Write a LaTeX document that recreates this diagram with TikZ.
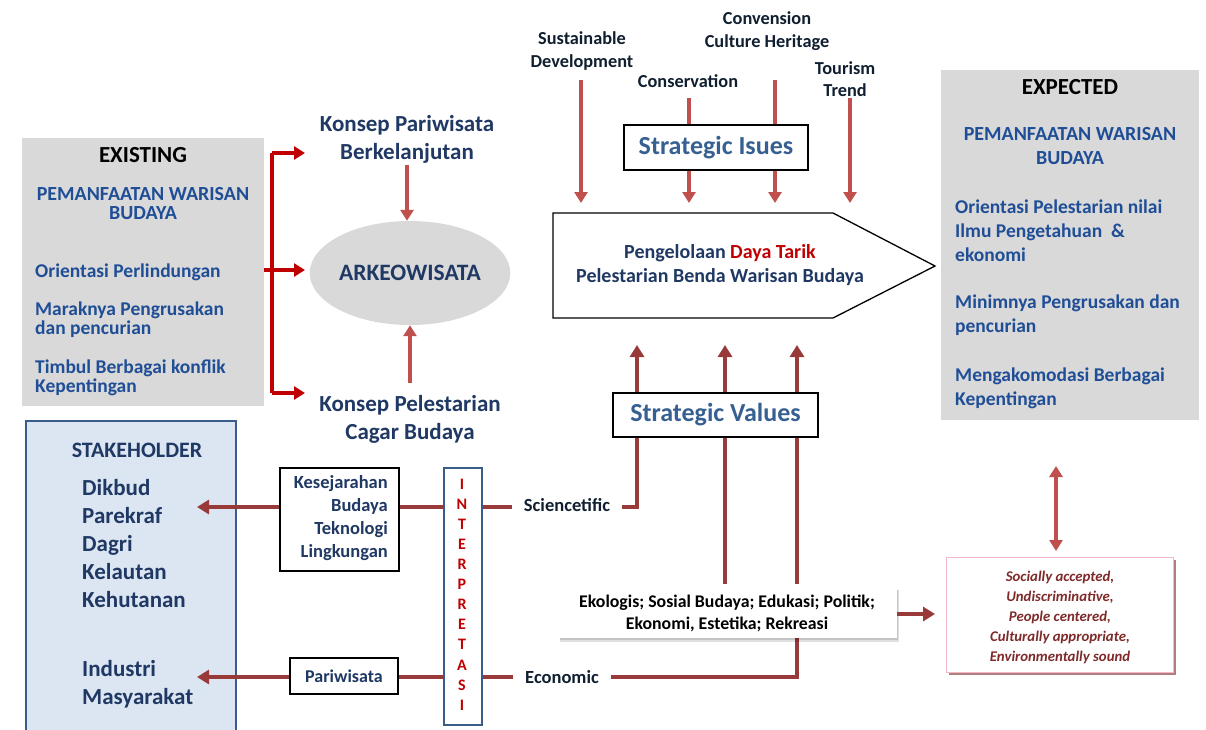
\documentclass[tikz,border=0pt]{standalone}
\usepackage{fontspec}
\setmainfont{Carlito}
\usetikzlibrary{arrows.meta,shapes.geometric}
\pgfdeclarelayer{bg}
\pgfsetlayers{bg,main}
\definecolor{grayfill}{HTML}{D9D9D9}
\definecolor{txtblue}{HTML}{1F4E96}
\definecolor{navy}{HTML}{1F3864}
\definecolor{sblue}{HTML}{376092}
\definecolor{brred}{HTML}{C00000}
\definecolor{lred}{HTML}{C0504D}
\definecolor{dred}{HTML}{983A3A}
\definecolor{stfill}{HTML}{DCE6F2}
\definecolor{stborder}{HTML}{385D8A}
\definecolor{pinkb}{HTML}{F2B8C6}
\definecolor{itred}{HTML}{7F2A2A}
\definecolor{darktxt}{HTML}{0F1F30}
\begin{document}
\begin{tikzpicture}[x=1pt,y=-1pt,
  box/.style={inner sep=0pt, anchor=north west},
  graybox/.style={box, fill=grayfill},
  blkbox/.style={box, draw=black, line width=2.2pt, fill=white},
  txt/.style={inner sep=0pt},
  bt/.style={txt, text=txtblue, font=\fontsize{20}{19}\selectfont\bfseries},
  bitem/.style={txt, text=txtblue, font=\fontsize{19.5}{24}\selectfont\bfseries, anchor=west, align=left},
  kt/.style={txt, text=navy, font=\fontsize{23}{28}\selectfont\bfseries, align=center},
  toplbl/.style={txt, text=darktxt, font=\fontsize{18.3}{22.5}\selectfont\bfseries, align=center},
  smlbl/.style={inner xsep=12pt, inner ysep=0pt, text=darktxt, font=\fontsize{18.5}{18}\selectfont\bfseries},
  larr/.style={draw=lred, line width=4pt, -{Triangle[width=13pt,length=11pt]}},
  brk/.style={draw=brred, line width=3.5pt},
  brkarr/.style={brk, -{Triangle[width=13pt,length=11pt]}},
  dline/.style={draw=dred, line width=4.5pt},
  darr/.style={dline, -{Triangle[width=14pt,length=12pt]}},
  stratbox/.style={draw=black, line width=2.5pt, fill=white, inner sep=0pt, text=sblue, font=\fontsize{26}{26}\selectfont\bfseries},
]
\useasboundingbox (0,0) rectangle (1206,729);
\begin{pgfonlayer}{bg}
\fill[white] (0,0) rectangle (1206,729);
\end{pgfonlayer}

% ---------------- EXISTING ----------------
\node[graybox, minimum width=242pt, minimum height=268pt] (exist) at (22,138) {};
\node[txt, font=\fontsize{23}{23}\selectfont\bfseries] (exT) at (143,155) {EXISTING};
\node[bt, align=center] (exH) at (143,204) {PEMANFAATAN WARISAN\\BUDAYA};
\node[bitem] (ex1) at (35,272) {Orientasi Perlindungan};
\node[bitem, font=\fontsize{19.5}{19}\selectfont\bfseries] (ex2) at (35,320) {Maraknya Pengrusakan\\dan pencurian};
\node[bitem, font=\fontsize{19.5}{19}\selectfont\bfseries] (ex3) at (35,378) {Timbul Berbagai konflik\\Kepentingan};

% ---------------- ARKEOWISATA ----------------
\node[kt] (kpb) at (407,139) {Konsep Pariwisata\\Berkelanjutan};
\node[ellipse, fill=grayfill, inner sep=0pt, minimum width=194pt, minimum height=104pt,
      text=navy, font=\fontsize{23.5}{23.5}\selectfont\bfseries] (ark) at (410,273) {ARKEOWISATA};
\node[kt] (kpc) at (410,419) {Konsep Pelestarian\\Cagar Budaya};
\draw[larr] (kpb.south |- 0,165) -- (kpb.south |- ark.north);
\draw[larr] (kpc.north |- 0,383) -- (kpc.north |- ark.south);

% bracket
\coordinate (brT) at (305,153);
\coordinate (brM) at (305,270);
\coordinate (brB) at (305,393);
\draw[brk] (272,153) -- (272,393);
\draw[brkarr] (272,153) -- (brT);
\draw[brkarr] (exist.east |- brM) -- (brM);
\draw[brkarr] (272,393) -- (brB);

% ---------------- STAKEHOLDER ----------------
\node[box, fill=stfill, draw=stborder, line width=1.8pt, minimum width=210pt, minimum height=320pt] (stk) at (25,420) {};
\node[txt, text=navy, font=\fontsize{22}{22}\selectfont\bfseries] (stT) at (137,450) {STAKEHOLDER};
\node[txt, text=navy, font=\fontsize{23}{28}\selectfont\bfseries, anchor=west, align=left] (st1) at (82,544) {Dikbud\\Parekraf\\Dagri\\Kelautan\\Kehutanan};
\node[txt, text=navy, font=\fontsize{23}{28}\selectfont\bfseries, anchor=west, align=left] (st2) at (82,684) {Industri\\Masyarakat};

% ---------------- middle left boxes ----------------
\node[blkbox, minimum width=119pt, minimum height=103pt] (kes) at (279,467) {};
\node[txt, text=navy, font=\fontsize{18.5}{23}\selectfont\bfseries, anchor=east, align=right] (kesT) at (388,518.5) {Kesejarahan\\Budaya\\Teknologi\\Lingkungan};
\node[blkbox, minimum width=108pt, minimum height=36pt, text=navy, font=\fontsize{18}{18}\selectfont\bfseries, anchor=center] (par) at (344,676) {Pariwisata};
\node[box, draw=stborder, line width=2pt, fill=white, minimum width=38pt, minimum height=257pt] (interp) at (443,467) {};
\node[txt, text=brred, font=\fontsize{16}{20.1}\selectfont\bfseries, align=center] (interpT) at (462,594.5) {I\\N\\T\\E\\R\\P\\R\\E\\T\\A\\S\\I};

\node[smlbl] (sci) at (567,505) {Sciencetific};
\node[smlbl] (eco) at (562,677) {Economic};

\coordinate (stA) at (197,507);
\coordinate (stB) at (197,677);
\draw[darr] (kes.west |- stA) -- (stA);
\draw[darr] (par.west |- stB) -- (stB);
\draw[dline] (kes.east |- stA) -- (interp.west |- stA);
\draw[dline] (par.east |- stB) -- (interp.west |- stB);
\draw[dline] (interp.east |- stA) -- (sci.west |- stA);
\draw[dline] (interp.east |- stB) -- (eco.west |- stB);

% ---------------- center ----------------
\node[toplbl] (sd) at (582,51) {Sustainable\\Development};
\node[toplbl] (cons) at (688,81) {Conservation};
\node[toplbl] (conv) at (767,31) {Convension\\Culture Heritage};
\node[toplbl] (tour) at (845,79) {Tourism\\Trend};

\coordinate (t1) at (581,203);
\coordinate (t2) at (689,203);
\coordinate (t3) at (775,203);
\coordinate (t4) at (850,203);
\begin{pgfonlayer}{bg}
\draw[larr] (t1 |- 0,80) -- (t1);
\draw[larr] (t2 |- 0,98) -- (t2);
\draw[larr] (t3 |- 0,80) -- (t3);
\draw[larr] (t4 |- 0,98) -- (t4);
\end{pgfonlayer}
\node[stratbox, minimum width=184pt, minimum height=45pt] (si) at (716,147.5) {Strategic Isues};

\draw[line width=1.3pt, fill=white] (553,213) -- (833,213) -- (935,266) -- (833,318) -- (553,318) -- cycle;
\node[txt, text=navy, font=\fontsize{20}{24}\selectfont\bfseries, align=center] (pg) at (720,265) {Pengelolaan \textcolor{brred}{Daya Tarik}\\Pelestarian Benda Warisan Budaya};

\node[stratbox, minimum width=205pt, minimum height=44pt] (sv) at (715.5,415) {Strategic Values};

\fill[black, opacity=0.12] (560,590) rectangle (899,642);
\fill[black, opacity=0.12] (560,590) rectangle (898,640);
\node[box, fill=white, minimum width=340pt, minimum height=54pt] (ek) at (557,584) {};
\node[txt, text=black, font=\fontsize{17.8}{22}\selectfont\bfseries, align=center] (ekT) at (727,613) {Ekologis; Sosial Budaya; Edukasi; Politik;\\Ekonomi, Estetika; Rekreasi};

\coordinate (b1) at (637,345);
\coordinate (b2) at (725,345);
\coordinate (b3) at (797,345);
\begin{pgfonlayer}{bg}
\draw[darr] (sci.east |- stA) -| (b1);
\draw[darr] (ek.north -| b2) -- (b2);
\draw[darr] (eco.east |- stB) -| (b3);
\end{pgfonlayer}

% ---------------- EXPECTED ----------------
\node[graybox, minimum width=258pt, minimum height=350pt] (exp) at (941,70) {};
\node[txt, font=\fontsize{23}{23}\selectfont\bfseries] (epT) at (1070,87) {EXPECTED};
\node[bt, align=center, font=\fontsize{20}{24}\selectfont\bfseries] (epH) at (1070,146) {PEMANFAATAN WARISAN\\BUDAYA};
\node[bitem] (ep1) at (955,231) {Orientasi Pelestarian nilai\\Ilmu Pengetahuan~~\&\\ekonomi};
\node[bitem] (ep2) at (955,315) {Minimnya Pengrusakan dan\\pencurian};
\node[bitem] (ep3) at (955,388) {Mengakomodasi Berbagai\\Kepentingan};

\fill[black!60!red, opacity=0.5] (949,560) rectangle (1176,675);
\node[box, draw=pinkb, line width=1pt, fill=white, minimum width=227pt, minimum height=115pt] (pink) at (946,557) {};
\node[txt, text=itred, font=\fontsize{14.8}{20}\selectfont\bfseries\itshape, align=center] (pinkT) at (1060,617) {Socially accepted,\\Undiscriminative,\\People centered,\\Culturally appropriate,\\Environmentally sound};

\coordinate (pkA) at (935,614);
\draw[darr, line width=4pt] (ek.east |- pkA) -- (pkA);
\coordinate (dbT) at (1056,466);
\coordinate (dbB) at (1056,551);
\draw[draw=lred, line width=4pt, {Triangle[width=13pt,length=11pt]}-{Triangle[width=13pt,length=11pt]}] (dbT) -- (dbB);
\end{tikzpicture}
\end{document}
